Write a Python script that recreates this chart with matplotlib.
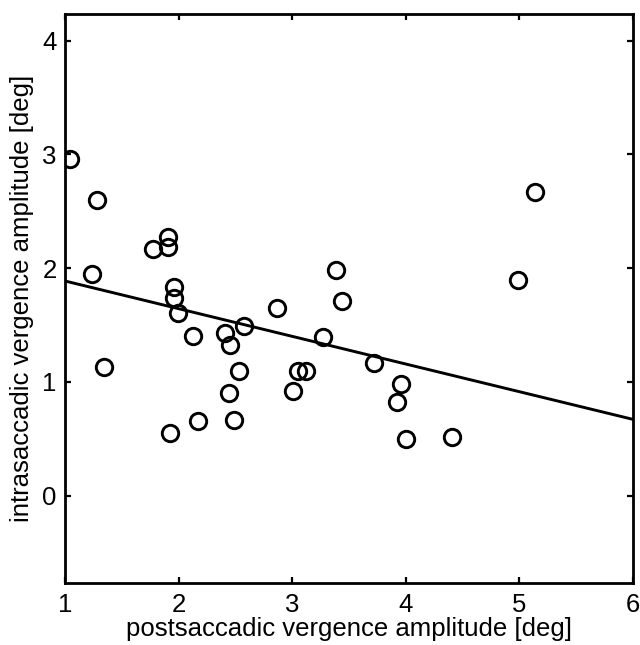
import matplotlib
matplotlib.use("Agg")
import matplotlib.pyplot as plt
import numpy as np

plt.rcParams['font.family'] = ['Liberation Sans', 'DejaVu Sans']

# data
post_amp = [1.044, 1.279, 1.235, 1.346, 1.772, 1.904, 1.910, 1.962, 1.962, 1.998,
            1.924, 2.130, 2.170, 2.410, 2.450, 2.440, 2.490, 2.530, 2.580, 2.863,
            3.010, 3.050, 3.120, 3.274, 3.383, 3.441, 3.720, 3.920, 3.958, 3.999,
            4.404, 4.988, 5.137]
intra_amp = [2.956, 2.598, 1.948, 1.134, 2.165, 2.276, 2.188, 1.831, 1.735, 1.603,
             0.548, 1.400, 0.654, 1.430, 1.320, 0.900, 0.665, 1.100, 1.490, 1.647,
             0.920, 1.096, 1.096, 1.392, 1.983, 1.714, 1.169, 0.820, 0.982, 0.500,
             0.518, 1.895, 2.671]
fit_intercept = 2.130
fit_slope = -0.2432
x_ticks = [1, 2, 3, 4, 5, 6]
y_ticks = [0, 1, 2, 3, 4]
x_label = "postsaccadic vergence amplitude [deg]"
y_label = "intrasaccadic vergence amplitude [deg]"

fig = plt.figure(figsize=(6.40, 6.45), dpi=100)
W, H = 640, 645
ax = fig.add_axes([65 / W, (H - 583) / H, 568 / W, 569 / H])

ax.plot(post_amp, intra_amp, linestyle='none', marker='o', markersize=11.8,
        markerfacecolor='none', markeredgecolor='black', markeredgewidth=2.1, zorder=3)

xl = np.array([1, 6])
ax.plot(xl, fit_intercept + fit_slope * xl, color='black', linewidth=2.1, zorder=2)

ax.set_xlim(1, 6)
ax.set_ylim(-0.767, 4.233)
ax.set_xticks(x_ticks)
ax.set_yticks(y_ticks)
ax.tick_params(direction='in', length=4, width=1.6, labelsize=18.5, top=True, right=True,
               colors='black')
ax.tick_params(axis='x', pad=7)
ax.tick_params(axis='y', pad=6)
for s in ax.spines.values():
    s.set_linewidth(2.0)
ax.set_xlabel(x_label, fontsize=18.5, labelpad=0)
ax.set_ylabel(y_label, fontsize=18.5, labelpad=6)

fig.savefig("out.png", dpi=100)
